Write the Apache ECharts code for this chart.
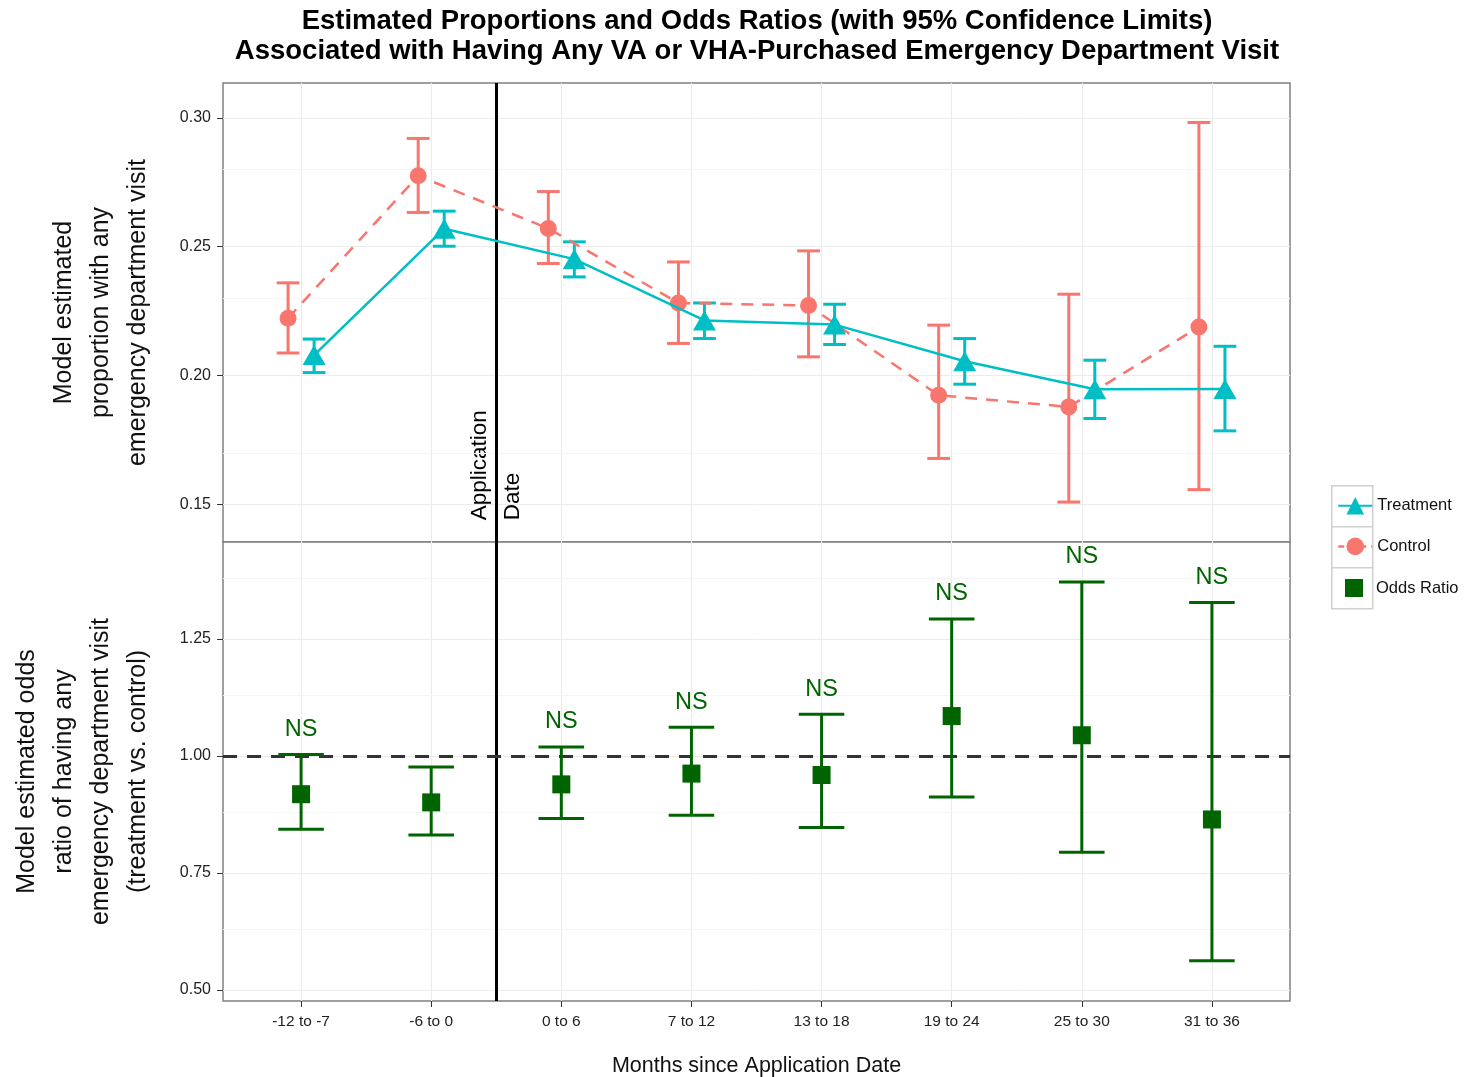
<!DOCTYPE html>
<html>
<head>
<meta charset="utf-8">
<script src="https://cdn.jsdelivr.net/npm/echarts@6/dist/echarts.min.js"></script>
<style>
html,body{margin:0;padding:0;background:#fff;}
#chart{width:1472px;height:1077px;}
</style>
</head>
<body>
<div id="chart"></div>
<script>
// ---------- DATA ----------
const categories = ['-12 to -7','-6 to 0','0 to 6','7 to 12','13 to 18','19 to 24','25 to 30','31 to 36'];
const treatEst = [0.2080, 0.2570, 0.2452, 0.2214, 0.2198, 0.2056, 0.1947, 0.1948];
const treatLo  = [0.2012, 0.2502, 0.2383, 0.2144, 0.2121, 0.1967, 0.1834, 0.1786];
const treatHi  = [0.2142, 0.2638, 0.2519, 0.2282, 0.2277, 0.2144, 0.2060, 0.2114];
const ctrlEst  = [0.2223, 0.2775, 0.2571, 0.2282, 0.2272, 0.1924, 0.1879, 0.2189];
const ctrlLo   = [0.2088, 0.2633, 0.2435, 0.2125, 0.2073, 0.1679, 0.1510, 0.1558];
const ctrlHi   = [0.2360, 0.2920, 0.2714, 0.2441, 0.2484, 0.2196, 0.2316, 0.2982];
const orEst    = [0.918, 0.9005, 0.939, 0.962, 0.959, 1.085, 1.044, 0.864];
const orLo     = [0.843, 0.831, 0.866, 0.873, 0.847, 0.912, 0.794, 0.562];
const orHi     = [1.003, 0.976, 1.019, 1.061, 1.089, 1.2925, 1.3715, 1.3275];
const sigLabels = ['NS','','NS','NS','NS','NS','NS','NS'];
const topTicks = [0.15, 0.20, 0.25, 0.30];
const topMinor = [0.175, 0.225, 0.275];
const botTicks = [0.50, 0.75, 1.00, 1.25];
const botMinor = [0.625, 0.875, 1.125, 1.375];
const xTicks = [1,2,3,4,5,6,7,8];
const appDateX = 2.5;
const refOR = 1.0;

// ---------- STYLE / LAYOUT ----------
const FONT = '"Liberation Sans", Arial, sans-serif';
const C_T = '#00BFC4', C_C = '#F8766D', C_OR = '#006400';
const dodge = 0.1;
const xMin = 0.4, xMax = 8.6;
const topMin = 0.1355, topMax = 0.3135;
const botMin = 0.476, botMax = 1.457;

const treatLine = categories.map((c,i)=>[i+1+dodge, treatEst[i]]);
const ctrlLine  = categories.map((c,i)=>[i+1-dodge, ctrlEst[i]]);
const treatErr  = categories.map((c,i)=>[i+1+dodge, treatLo[i], treatHi[i]]);
const ctrlErr   = categories.map((c,i)=>[i+1-dodge, ctrlLo[i], ctrlHi[i]]);
const orPts     = categories.map((c,i)=>[i+1, orEst[i]]);
const orErr     = categories.map((c,i)=>[i+1, orLo[i], orHi[i]]);
const nsData    = categories.map((c,i)=>[i+1, orHi[i], i]);

function errRender(capHalf, color, width){
  return function(params, api){
    const x = api.value(0), lo = api.value(1), hi = api.value(2);
    const pLo = api.coord([x, lo]), pHi = api.coord([x, hi]);
    const pL = api.coord([x-capHalf, lo]), pR = api.coord([x+capHalf, lo]);
    const hw = (pR[0]-pL[0])/2;
    const style = {stroke: color, lineWidth: width, fill: null};
    return {type:'group', children:[
      {type:'line', shape:{x1:pLo[0],y1:pLo[1],x2:pHi[0],y2:pHi[1]}, style: style},
      {type:'line', shape:{x1:pLo[0]-hw,y1:pLo[1],x2:pLo[0]+hw,y2:pLo[1]}, style: style},
      {type:'line', shape:{x1:pHi[0]-hw,y1:pHi[1],x2:pHi[0]+hw,y2:pHi[1]}, style: style}
    ]};
  };
}

function xAxisCfg(gridIndex, showLabels){
  return {
    type:'value', gridIndex: gridIndex, min:xMin, max:xMax,
    axisLine:{show:false},
    axisTick:{show:showLabels, customValues:xTicks, length:6, lineStyle:{color:'#333', width:1}},
    axisLabel:{show:showLabels, customValues:xTicks, margin:13, fontSize:15.5, color:'#222', fontFamily:FONT,
      formatter: v => categories[Math.round(v)-1] || ''},
    splitLine:{show:true, lineStyle:{color:'#ebebeb', width:1}},
    name: showLabels ? 'Months since Application Date' : '',
    nameLocation:'middle', nameGap:54,
    nameTextStyle:{fontSize:21.5, color:'#111', fontFamily:FONT}
  };
}
function yAxisCfg(gridIndex, mn, mx, ticks, name){
  return {
    type:'value', gridIndex: gridIndex, min:mn, max:mx,
    axisLine:{show:false},
    axisTick:{show:true, customValues:ticks, length:6, lineStyle:{color:'#333', width:1}},
    axisLabel:{customValues:ticks, margin:12, fontSize:16, color:'#222', fontFamily:FONT,
      formatter: v => v.toFixed(2)},
    splitLine:{show:true, lineStyle:{color:'#ebebeb', width:1}},
    name: name, nameLocation:'middle', nameGap:66, nameRotate:90,
    nameTextStyle:{fontSize:25, lineHeight:37, color:'#111', fontFamily:FONT, align:'center'}
  };
}
function minorGrid(xi, yi, vals){
  return {
    type:'line', xAxisIndex:xi, yAxisIndex:yi, data:[], z:0, silent:true,
    markLine:{silent:true, symbol:['none','none'], label:{show:false}, animation:false,
      lineStyle:{color:'#f5f5f5', width:1, type:'solid'},
      data: vals.map(v=>({yAxis:v}))}
  };
}

const option = {
  animation:false,
  backgroundColor:'#ffffff',
  title:{
    text:'Estimated Proportions and Odds Ratios (with 95% Confidence Limits)\nAssociated with Having Any VA or VHA-Purchased Emergency Department Visit',
    left:757, top:6, padding:0, textAlign:'center',
    textStyle:{fontSize:27.5, fontWeight:'bold', lineHeight:30, color:'#000', fontFamily:FONT}
  },
  legend:[
    {
      orient:'vertical', left:1337, top:497, padding:0,
      itemWidth:34, itemHeight:22, itemGap:23,
      textStyle:{fontSize:16.5, color:'#111', fontFamily:FONT},
      data:[
        {name:'Treatment'},
        {name:'Control', lineStyle:{type:[6,5], width:2.5}}
      ]
    },
    {
      orient:'vertical', left:1345, top:579, padding:0,
      itemWidth:34, itemHeight:18, itemGap:0,
      textStyle:{fontSize:16.5, color:'#111', fontFamily:FONT},
      data:[ {name:'Odds Ratio', icon:'path://M0 0H10V10H0Z'} ]
    }
  ],
  grid:[
    {left:223, right:182, top:83, height:459, show:true, borderColor:'#808080', borderWidth:1.5, backgroundColor:'#fff', outerBoundsMode:'none', containLabel:false},
    {left:223, right:182, top:542, height:459, show:true, borderColor:'#808080', borderWidth:1.5, backgroundColor:'#fff', outerBoundsMode:'none', containLabel:false}
  ],
  xAxis:[ xAxisCfg(0,false), xAxisCfg(1,true) ],
  yAxis:[
    yAxisCfg(0, topMin, topMax, topTicks, 'Model estimated\nproportion with any\nemergency department visit'),
    yAxisCfg(1, botMin, botMax, botTicks, 'Model estimated odds\nratio of having any\nemergency department visit\n(treatment vs. control)')
  ],
  graphic:[
    {type:'rect', left:1331, top:485, shape:{width:41, height:41}, style:{fill:'#fff', stroke:'#d0d0d0', lineWidth:1.5}, z:-1},
    {type:'rect', left:1331, top:526, shape:{width:41, height:41}, style:{fill:'#fff', stroke:'#d0d0d0', lineWidth:1.5}, z:-1},
    {type:'rect', left:1331, top:567, shape:{width:41, height:41}, style:{fill:'#fff', stroke:'#d0d0d0', lineWidth:1.5}, z:-1}
  ],
  series:[
    minorGrid(0,0,topMinor),
    minorGrid(1,1,botMinor),
    // application date line (both panels) + label
    {type:'line', xAxisIndex:0, yAxisIndex:0, data:[], z:3, silent:true,
      markLine:{silent:true, symbol:['none','none'], label:{show:false}, animation:false,
        lineStyle:{color:'#000', width:3, type:'solid'}, data:[{xAxis:appDateX}]}},
    {type:'line', xAxisIndex:1, yAxisIndex:1, data:[], z:3, silent:true,
      markLine:{silent:true, symbol:['none','none'], label:{show:false}, animation:false,
        lineStyle:{color:'#000', width:3, type:'solid'}, data:[{xAxis:appDateX}]}},
    {type:'custom', xAxisIndex:0, yAxisIndex:0, silent:true, z:4,
      data:[[appDateX, 0.1439]],
      renderItem:function(params, api){
        const p = api.coord([api.value(0), api.value(1)]);
        return {type:'text', x:p[0], y:p[1], rotation:Math.PI/2,
          style:{text:'Application\nDate', x:0, y:0, align:'left', verticalAlign:'middle',
            fontSize:22.5, lineHeight:33, fill:'#000', fontFamily:FONT}};
      }},
    // error bars top
    {type:'custom', name:'ctrlErr', xAxisIndex:0, yAxisIndex:0, z:5, silent:true,
      data: ctrlErr, encode:{x:0, y:[1,2]}, renderItem: errRender(0.0875, C_C, 3)},
    {type:'custom', name:'treatErr', xAxisIndex:0, yAxisIndex:0, z:5, silent:true,
      data: treatErr, encode:{x:0, y:[1,2]}, renderItem: errRender(0.0875, C_T, 3)},
    {type:'line', name:'Control', xAxisIndex:0, yAxisIndex:0, z:6,
      data: ctrlLine, symbol:'circle', symbolSize:17,
      itemStyle:{color:C_C}, lineStyle:{color:C_C, width:2.5, type:[12,9]}},
    {type:'line', name:'Treatment', xAxisIndex:0, yAxisIndex:0, z:7,
      data: treatLine, symbol:'triangle', symbolSize:[23,20],
      itemStyle:{color:C_T}, lineStyle:{color:C_T, width:2.5, type:'solid'}},
    // bottom panel
    {type:'custom', name:'orErr', xAxisIndex:1, yAxisIndex:1, z:5, silent:true,
      data: orErr, encode:{x:0, y:[1,2]}, renderItem: errRender(0.175, C_OR, 3)},
    {type:'scatter', name:'Odds Ratio', xAxisIndex:1, yAxisIndex:1, z:6,
      data: orPts, symbol:'rect', symbolSize:18, itemStyle:{color:C_OR, opacity:1},
      markLine:{silent:true, symbol:['none','none'], label:{show:false}, animation:false,
        lineStyle:{color:'#333', width:3, type:[14,10]}, data:[{yAxis:refOR}]}},
    {type:'custom', xAxisIndex:1, yAxisIndex:1, z:6, silent:true,
      data: nsData, encode:{x:0, y:1},
      renderItem:function(params, api){
        const p = api.coord([api.value(0), api.value(1)]);
        return {type:'text', x:p[0], y:p[1]-25,
          style:{text: sigLabels[api.value(2)], x:0, y:0, align:'center', verticalAlign:'middle',
            fontSize:23.5, fill:C_OR, fontFamily:FONT}};
      }}
  ]
};

const chart = echarts.init(document.getElementById('chart'), null, {renderer:'canvas'});
chart.setOption(option);
</script>
</body>
</html>
